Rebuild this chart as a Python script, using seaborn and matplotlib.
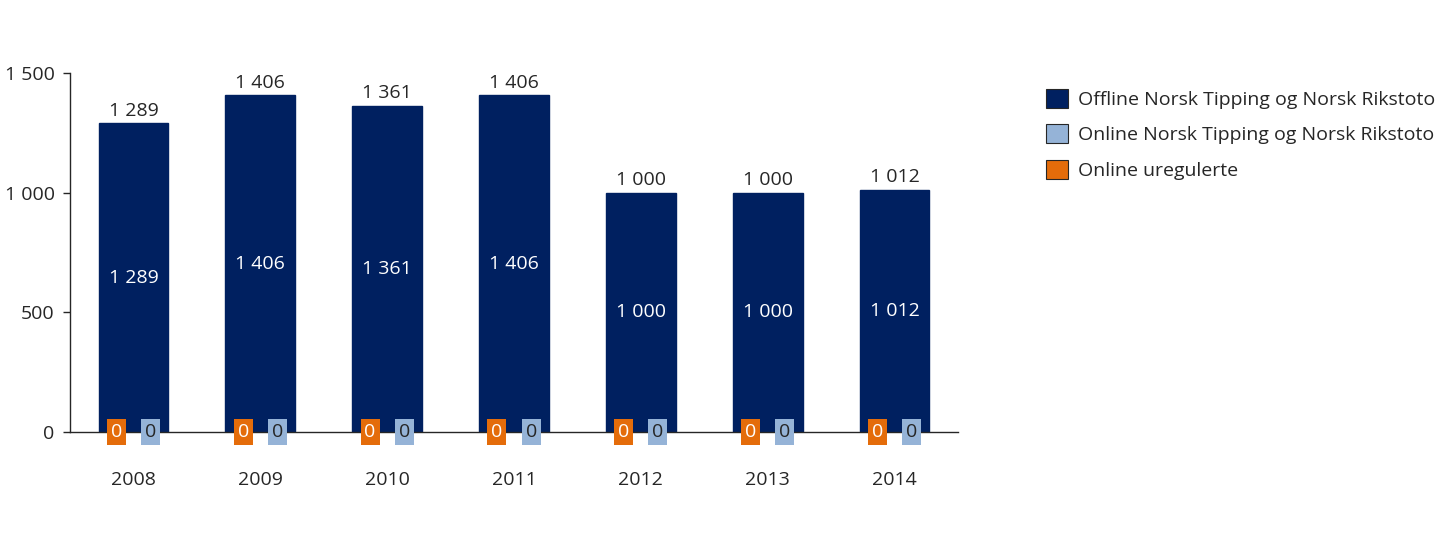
import matplotlib
matplotlib.use("Agg")
import matplotlib.pyplot as plt
import seaborn as sns
import pandas as pd
from matplotlib.patches import Patch

years = ["2008", "2009", "2010", "2011", "2012", "2013", "2014"]
offline = [1289, 1406, 1361, 1406, 1000, 1000, 1012]
online_nt = [0, 0, 0, 0, 0, 0, 0]
online_unreg = [0, 0, 0, 0, 0, 0, 0]
series_names = ["Offline Norsk Tipping og Norsk Rikstoto",
                "Online Norsk Tipping og Norsk Rikstoto",
                "Online uregulerte"]
yticks = [0, 500, 1000, 1500]

NAVY = "#002060"
LIGHT = "#95B3D7"
ORANGE = "#E46C0A"
TXT = "#262626"

sns.set_theme(style="white")
plt.rcParams['font.family'] = ['Open Sans', 'DejaVu Sans']

def fmt(v):
    return f"{v:,.0f}".replace(",", " ")

df = pd.DataFrame({"year": years, "offline": offline})

fig = plt.figure(figsize=(14.55, 5.44), dpi=100)
ax = fig.add_axes([70/1455, 1-432/544, (958-70)/1455, (432-73)/544])

sns.barplot(data=df, x="year", y="offline", color=NAVY, width=0.55,
            saturation=1, ax=ax, edgecolor=NAVY)

FS = 14
ax.set_xlim(-0.5, 6.5)
ax.set_ylim(0, 1500)
ax.set_yticks(yticks)
ax.set_yticklabels([fmt(t) for t in yticks], fontsize=FS, color=TXT)
ax.tick_params(axis="y", direction="out", length=5, width=1, color=TXT, pad=6, left=True)
ax.tick_params(axis="x", length=0, pad=28, labelsize=FS, labelcolor=TXT)
ax.set_xlabel("")
ax.set_ylabel("")
for s in ["top", "right"]:
    ax.spines[s].set_visible(False)
for s in ["left", "bottom"]:
    ax.spines[s].set_color(TXT)
    ax.spines[s].set_linewidth(1)

for i, v in enumerate(offline):
    ax.text(i, v + 16, fmt(v), ha="center", va="bottom", fontsize=FS, color=TXT)
    ax.text(i, v / 2, fmt(v), ha="center", va="center", fontsize=FS, color="white")
for i, v in enumerate(online_unreg):
    ax.text(i - 0.135, v, fmt(v), ha="center", va="center", fontsize=FS, color="white",
            bbox=dict(boxstyle="square,pad=0.2", fc=ORANGE, ec="none"), zorder=5)
for i, v in enumerate(online_nt):
    ax.text(i + 0.135, v, fmt(v), ha="center", va="center", fontsize=FS, color=TXT,
            bbox=dict(boxstyle="square,pad=0.2", fc=LIGHT, ec="none"), zorder=5)

handles = [Patch(facecolor=NAVY, edgecolor=TXT, linewidth=0.8),
           Patch(facecolor=LIGHT, edgecolor=TXT, linewidth=0.8),
           Patch(facecolor=ORANGE, edgecolor=TXT, linewidth=0.8)]
fig.legend(handles, series_names, loc="upper left", bbox_to_anchor=(1046/1455, 1-89/544),
           frameon=False, fontsize=FS, handlelength=1.13, handleheight=1.13,
           handletextpad=0.5, labelspacing=0.78, labelcolor=TXT, borderaxespad=0,
           borderpad=0)

fig.savefig("out.png", dpi=100)
